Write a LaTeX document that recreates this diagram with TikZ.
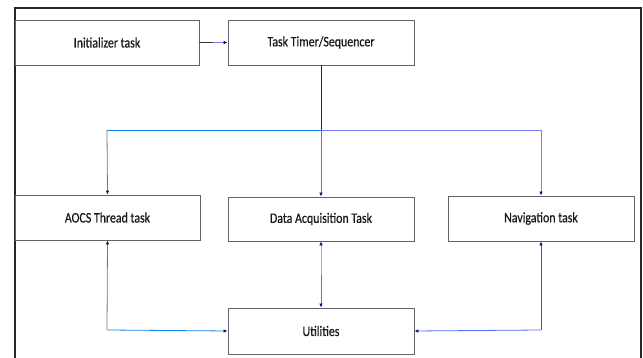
\documentclass[tikz,border=0pt]{standalone}
\usepackage{fontspec}
\setmainfont{Carlito}[FakeStretch=0.82,FakeBold=0.6]
\usetikzlibrary{arrows.meta,calc}
\definecolor{boxline}{RGB}{100,100,100}
\definecolor{busblue}{RGB}{20,130,235}
\definecolor{lightpurple}{RGB}{125,125,250}
\definecolor{linkblue}{RGB}{30,90,245}
\definecolor{wiregray}{RGB}{120,120,120}
\definecolor{tipnavy}{RGB}{10,20,110}
\begin{document}
\begin{tikzpicture}[x=1pt,y=1pt,
  taskbox/.style={draw=boxline,line width=0.9pt,fill=white,minimum height=45pt,
    inner sep=0pt,text=black!90,font=\fontsize{14.5}{16}\selectfont},
  tip/.style={-{Latex[length=4pt,width=3.6pt,color=tipnavy]}},
  rtip/.style={{Latex[length=4pt,width=3.6pt,color=tipnavy]}-},
  wire/.style={line width=0.8pt}]
\useasboundingbox (0,0) rectangle (643,358);
\fill[white] (0,0) rectangle (643,358);
% outer frame
\draw[line width=1.6pt,black!85] (15,-5) -- (15,350) -- (641,350) -- (641,-5);

% task boxes
\node[taskbox,minimum width=184pt] (init)  at (107,315.5) {Initializer task};
\node[taskbox,minimum width=186pt] (timer) at (321,315.5) {Task Timer/Sequencer};
\node[taskbox,minimum width=185pt] (aocs)  at (107.5,140.5) {AOCS Thread task};
\node[taskbox,minimum width=186pt,minimum height=44pt] (daq) at (321,139) {Data Acquisition Task};
\node[taskbox,minimum width=186pt] (nav)   at (541,139.5) {Navigation task};
\node[taskbox,minimum width=186pt,minimum height=46pt] (util) at (321,27) {Utilities};

% routing points
\coordinate (bus)   at (321,228);
\coordinate (busL)  at (107,228);
\coordinate (busR)  at (541,228);
\coordinate (initmid) at ($(init.east)+(14,0)$);
\coordinate (aocsB) at (107,28);
\coordinate (navB)  at (541,28);
\coordinate (daqmid) at (321,83);

% initializer to timer
\draw[wire,black!80] (init.east) -- (initmid);
\draw[wire,lightpurple,tip] (initmid) -- (timer.west);

% timer down to the distribution bus
\draw[wire,black!85] (timer.south) -- (bus);
\draw[wire,busblue] (bus) -- (busL);
\draw[wire,lightpurple] (bus) -- (busR);
\draw[wire,wiregray,tip] (busL) -- (aocs.north);
\draw[wire,wiregray,tip] (bus) -- (daq.north);
\draw[wire,lightpurple,tip] (busR) -- (nav.north);

% links to utilities
\draw[wire,wiregray,rtip] (aocs.south) -- (aocsB);
\draw[wire,busblue,tip] (aocsB) -- (util.west);
\draw[wire,lightpurple!70,rtip] (daq.south) -- (daqmid);
\draw[wire,wiregray,tip] (daqmid) -- (util.north);
\draw[wire,linkblue,rtip] (nav.south) -- (navB);
\draw[wire,lightpurple!60!linkblue,tip] (navB) -- (util.east);
\end{tikzpicture}
\end{document}
